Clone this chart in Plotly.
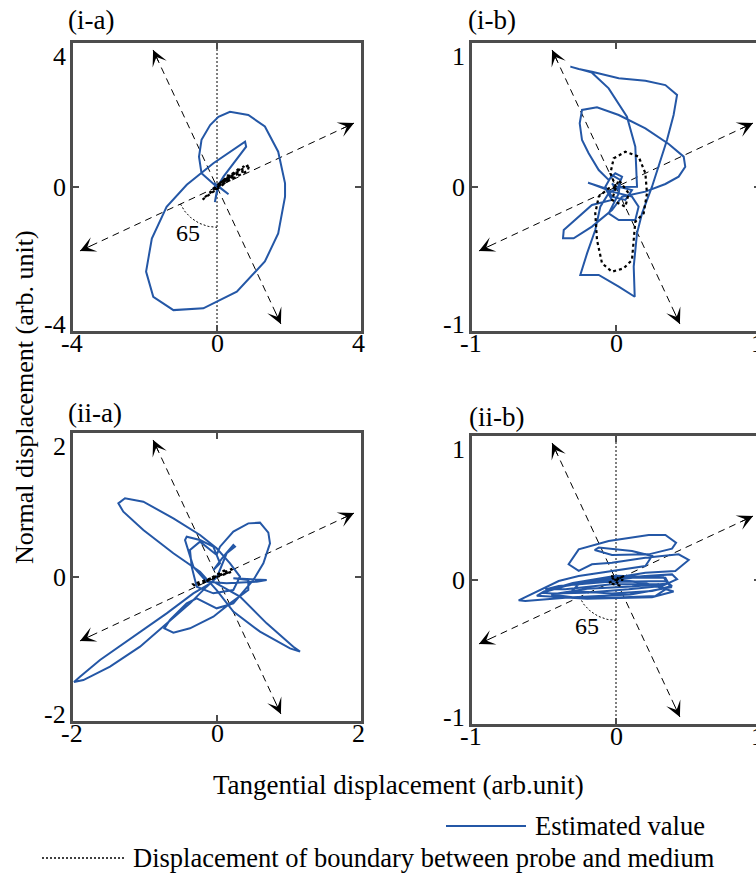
import numpy as np
import plotly.graph_objects as go

W, H = 764, 873
SERIF = "Liberation Serif, Times New Roman, serif"
BLUE = "#2457a6"
FRAME = "#4d4d4d"

# ---- (tangential, normal) trajectories -------------------------------------
est_ia = [(0, 0), (-0.43, 0.38), (-0.5, 0.84), (-0.43, 1.31), (-0.19, 1.72), (0.04, 1.95),
          (0.36, 2.09), (0.87, 2.0), (1.33, 1.68), (1.70, 0.98), (1.89, 0.10), (1.89, -0.27),
          (1.70, -1.29), (1.33, -2.07), (0.55, -2.91), (-0.38, -3.37), (-1.21, -3.42),
          (-1.77, -3.05), (-1.97, -2.35), (-1.81, -1.43), (-1.40, -0.55), (-0.84, 0.06),
          (-0.10, 0.66), (0.45, 1.03), (0.78, 1.26), (0.81, 1.12), (0.45, 0.66), (0.18, 0.29),
          (0.04, 0.06), (0.12, -0.05), (-0.08, 0.12), (0.32, -0.2), (0.02, 0.02), (-0.06, -0.42),
          (0.05, 0.08), (-0.12, -0.05), (0, 0)]
bnd_ia = [(0, 0), (0.85, 0.45), (0.9, 0.62), (0.05, 0.1), (0.7, 0.42), (0.75, 0.58),
          (-0.3, -0.25), (-0.4, -0.35), (0.55, 0.35), (0.6, 0.5), (0, 0.05), (-0.2, -0.15),
          (0.4, 0.3), (0.3, 0.32), (0, 0)]

est_ib = [(0, 0), (0.146, 0.002), (0.134, 0.280), (0.076, 0.488), (-0.051, 0.685),
          (-0.167, 0.794), (-0.317, 0.836), (-0.259, 0.819), (-0.167, 0.801), (0.019, 0.755),
          (0.204, 0.738), (0.343, 0.708), (0.424, 0.639), (0.400, 0.500), (0.354, 0.326),
          (0.296, 0.141), (0.250, 0.002), (0.181, -0.183), (0.146, -0.322), (0.123, -0.553),
          (0.130, -0.762), (0.019, -0.692), (-0.120, -0.611), (-0.248, -0.611), (-0.201, -0.461),
          (-0.144, -0.299), (-0.109, -0.137), (-0.051, -0.044), (0.019, 0.002), (0.111, -0.021),
          (0.065, -0.090), (-0.028, -0.067), (-0.074, 0.002), (-0.028, 0.083), (0.030, 0.049),
          (0.019, -0.044), (-0.051, -0.183), (0.019, -0.229), (0.134, -0.229), (0.157, -0.137),
          (0.111, -0.067), (-0.028, -0.032), (-0.194, 0.030), (-0.074, -0.009), (-0.028, -0.090),
          (-0.167, -0.125), (-0.306, -0.252), (-0.363, -0.299), (-0.368, -0.356), (-0.294, -0.356),
          (-0.167, -0.275), (-0.028, -0.160), (0.042, -0.067), (0.204, -0.032), (0.343, 0.021),
          (0.435, 0.072), (0.481, 0.141), (0.470, 0.211), (0.366, 0.299), (0.204, 0.407),
          (0.019, 0.500), (-0.132, 0.553), (-0.236, 0.535), (-0.252, 0.442), (-0.236, 0.326),
          (-0.190, 0.234), (-0.120, 0.118), (-0.051, 0.049), (-0.005, 0.095), (0.042, 0.072),
          (0.007, -0.021), (-0.028, 0.025), (0, 0)]
bnd_ib = [(0, 0), (-0.039, 0.095), (-0.016, 0.199), (0.065, 0.245), (0.157, 0.211),
          (0.204, 0.095), (0.215, -0.044), (0.192, -0.183), (0.134, -0.241), (0.123, -0.368),
          (0.111, -0.507), (0.053, -0.565), (-0.028, -0.588), (-0.097, -0.530), (-0.132, -0.368),
          (-0.144, -0.183), (-0.120, -0.067), (-0.051, -0.009), (0, 0), (0.019, 0.049),
          (0.088, -0.044), (0.065, -0.137), (-0.028, -0.090), (0, 0)]

est_iia = [(0, 0), (-0.144, -0.134), (-0.375, -0.366), (-0.699, -0.644), (-1.069, -0.968),
           (-1.486, -1.245), (-1.856, -1.431), (-1.986, -1.458), (-1.903, -1.384),
           (-1.625, -1.153), (-1.162, -0.829), (-0.699, -0.505), (-0.329, -0.227),
           (-0.051, -0.065), (0.319, -0.273), (0.690, -0.644), (1.060, -0.968), (1.153, -1.037),
           (1.014, -0.991), (0.597, -0.759), (0.227, -0.481), (-0.005, -0.181), (-0.236, 0.074),
           (-0.606, 0.329), (-1.023, 0.653), (-1.301, 0.907), (-1.370, 1.023), (-1.278, 1.093),
           (-1.023, 1.046), (-0.606, 0.815), (-0.236, 0.583), (-0.005, 0.398), (0.181, 0.190),
           (0.319, 0.005), (0.227, -0.181), (-0.051, -0.227), (-0.282, -0.134), (-0.352, 0.144),
           (-0.375, 0.375), (-0.236, 0.491), (-0.005, 0.306), (0.042, 0.421), (0.227, 0.630),
           (0.435, 0.745), (0.597, 0.755), (0.713, 0.616), (0.736, 0.468), (0.644, 0.190),
           (0.505, -0.042), (0.389, -0.181), (0.227, -0.366), (-0.005, -0.435), (-0.282, -0.296),
           (-0.421, -0.366), (-0.653, -0.597), (-0.731, -0.713), (-0.606, -0.773),
           (-0.375, -0.713), (-0.051, -0.551), (0.181, -0.366), (0.435, -0.181), (0.435, -0.042),
           (0.227, -0.019), (0.690, -0.042), (0.551, -0.065), (0.134, -0.088), (-0.144, -0.065),
           (-0.329, 0.144), (-0.444, 0.514), (-0.421, 0.560), (-0.236, 0.514), (-0.051, 0.421),
           (0.042, 0.190), (-0.051, 0.097), (0.088, 0.282), (0.227, 0.444), (0.250, 0.421),
           (0.134, 0.329), (0, 0)]
bnd_iia = [(0, 0), (0.22, 0.08), (0.2, 0.11), (-0.3, -0.13), (-0.33, -0.1), (0.15, 0.06),
           (0.1, 0.09), (-0.2, -0.08), (0, 0)]

est_iib = [(0, 0), (0.204, 0.028), (0.389, 0.039), (0.424, 0.005), (0.319, -0.042),
           (0.088, -0.065), (-0.213, -0.088), (-0.444, -0.093), (-0.514, -0.088),
           (-0.352, -0.042), (-0.074, 0.005), (0.204, 0.051), (0.412, 0.062), (0.505, 0.139),
           (0.435, 0.178), (0.204, 0.155), (-0.028, 0.120), (-0.167, 0.109), (-0.259, 0.063),
           (-0.329, 0.109), (-0.259, 0.213), (-0.051, 0.271), (0.227, 0.313), (0.343, 0.313),
           (0.417, 0.259), (0.389, 0.218), (0.227, 0.178), (-0.028, 0.174), (-0.148, 0.208),
           (-0.120, 0.225), (0.111, 0.201), (0.250, 0.167), (0.204, 0.097), (-0.028, 0.063),
           (-0.259, 0.028), (-0.398, -0.007), (-0.514, -0.065), (-0.676, -0.141),
           (-0.630, -0.146), (-0.352, -0.123), (-0.028, -0.123), (0.273, -0.111), (0.343, -0.065),
           (0.296, -0.030), (-0.028, -0.030), (-0.352, -0.065), (-0.491, -0.065),
           (-0.398, -0.042), (-0.074, -0.014), (0.343, -0.007), (0.389, -0.042), (0.250, -0.076),
           (-0.028, -0.093), (-0.306, -0.076), (-0.259, -0.030), (0.088, 0.016), (0.343, 0.016),
           (0.366, -0.025), (0.111, -0.046), (-0.2, -0.06), (-0.45, -0.1), (-0.3, -0.12),
           (0.1, -0.1), (0.38, -0.05), (0.33, 0.02), (0.0, 0.03), (-0.3, -0.02), (-0.5, -0.08),
           (-0.55, -0.11), (-0.2, -0.13), (0.25, -0.12), (0.4, -0.08), (0.2, -0.02), (0, 0)]
bnd_iib = [(0, 0), (0.06, 0.03), (-0.05, -0.02), (0.03, -0.04), (-0.04, 0.03), (0.05, 0.0), (0, 0)]

panel_names = ["(i-a)", "(i-b)", "(ii-a)", "(ii-b)"]
panel_limits = [4, 1, 2, 1]
panel_ticktext = [["-4", "0", "4"], ["-1", "0", "1"], ["-2", "0", "2"], ["-1", "0", "1"]]
panel_est = [est_ia, est_ib, est_iia, est_iib]
panel_bnd = [bnd_ia, bnd_ib, bnd_iia, bnd_iib]
panel_angle_mark = [True, False, False, True]
frame_deg = 25          # rotation of the probe frame from the tangential axis
angle_label = "65"

# plot boxes in pixels: left, right, top, bottom
boxes = [(73, 361, 43, 331), (472, 760, 43, 331), (73, 361, 433, 721), (472, 760, 436, 724)]
label_pos = [(91, 20), (492, 20), (95, 413), (496, 417)]

fig = go.Figure()
annotations = []
shapes = []
TICKFONT = dict(family=SERIF, size=26, color="black")
TEXTFONT = dict(family=SERIF, size=26.5, color="black")


def ax_names(i):
    s = "" if i == 0 else str(i + 1)
    return "x" + s, "y" + s, "xaxis" + s, "yaxis" + s


for i in range(4):
    xr, yr, xkey, ykey = ax_names(i)
    lim = panel_limits[i]
    L = 1.05 * lim
    common = dict(xaxis=xr, yaxis=yr, showlegend=False, hoverinfo="skip", mode="lines")

    # rotated frame (dashed, with arrowheads on both ends)
    for th in (frame_deg, frame_deg + 90):
        c, s = np.cos(np.radians(th)), np.sin(np.radians(th))
        fig.add_trace(go.Scatter(x=[-L * c, L * c], y=[-L * s, L * s],
                                 line=dict(color="black", width=1, dash="7px,5px"), **common))
        for sign in (1, -1):
            cc, ss = sign * c, sign * s
            annotations.append(dict(x=L * cc, y=L * ss, xref=xr, yref=yr, text="",
                                    showarrow=True, arrowhead=3, arrowsize=2.6, arrowwidth=1,
                                    arrowcolor="black", ax=-15 * cc, ay=15 * ss, standoff=0))

    if panel_angle_mark[i]:
        fig.add_trace(go.Scatter(x=[0, 0], y=[-lim, lim],
                                 line=dict(color="black", width=1, dash="2px,2px"), **common))
        t = np.radians(np.linspace(180 + frame_deg, 270, 40))
        r = 0.28 * lim
        fig.add_trace(go.Scatter(x=r * np.cos(t), y=r * np.sin(t),
                                 line=dict(color="black", width=1, dash="2px,2px"), **common))
        annotations.append(dict(x=-0.2 * lim, y=-0.32 * lim, xref=xr, yref=yr, text=angle_label,
                                showarrow=False, font=dict(family=SERIF, size=24, color="black")))

    ex, ey = zip(*panel_est[i])
    fig.add_trace(go.Scatter(x=ex, y=ey, line=dict(color=BLUE, width=2), **common))
    bx, by = zip(*panel_bnd[i])
    fig.add_trace(go.Scatter(x=bx, y=by, line=dict(color="black", width=2.2, dash="dot"), **common))

    l, rgt, top, bot = boxes[i]
    axis_style = dict(range=[-lim, lim], tickvals=[-lim, 0, lim], showticklabels=False,
                      ticks="inside", ticklen=6, tickwidth=2, tickcolor=FRAME,
                      showline=True, linewidth=2.5, linecolor=FRAME, mirror="ticks",
                      showgrid=False, zeroline=False, fixedrange=True, automargin=False)
    fig.update_layout({
        xkey: dict(domain=[l / W, rgt / W], anchor=yr, **axis_style),
        ykey: dict(domain=[1 - bot / H, 1 - top / H], anchor=xr, **axis_style),
    })

    # tick labels, set just under / beside the frame
    tt = panel_ticktext[i]
    for v, txt, xs in zip((-lim, 0, lim), tt, (-1, 0, -3)):
        annotations.append(dict(x=v, y=-lim, xref=xr, yref=yr, text=txt, showarrow=False,
                                xanchor="center", yanchor="middle", xshift=xs, yshift=-12,
                                font=TICKFONT))
    for v, txt, ys in zip((-lim, 0, lim), tt, (7, 0, -13)):
        annotations.append(dict(x=-lim, y=v, xref=xr, yref=yr, text=txt, showarrow=False,
                                xanchor="right", yanchor="middle", xshift=-5, yshift=ys,
                                font=TICKFONT))

    lx, ly = label_pos[i]
    annotations.append(dict(x=lx / W, y=1 - ly / H, xref="paper", yref="paper",
                            xanchor="center", yanchor="middle",
                            text=panel_names[i], showarrow=False,
                            font=dict(family=SERIF, size=27, color="black")))

# shared axis titles
annotations.append(dict(x=398 / W, y=1 - 785 / H, xref="paper", yref="paper",
                        xanchor="center", yanchor="middle",
                        text="Tangential displacement (arb.unit)", showarrow=False,
                        font=dict(family=SERIF, size=27, color="black")))
annotations.append(dict(x=25 / W, y=1 - 397 / H, xref="paper", yref="paper", textangle=-90,
                        xanchor="center", yanchor="middle",
                        text="Normal displacement (arb. unit)", showarrow=False,
                        font=dict(family=SERIF, size=26, color="black")))

# legend
shapes.append(dict(type="line", xref="paper", yref="paper", x0=446 / W, x1=526 / W,
                   y0=1 - 826 / H, y1=1 - 826 / H, line=dict(color=BLUE, width=2)))
shapes.append(dict(type="line", xref="paper", yref="paper", x0=42 / W, x1=126 / W,
                   y0=1 - 858 / H, y1=1 - 858 / H,
                   line=dict(color="black", width=1.5, dash="2px,2px")))
annotations.append(dict(x=533 / W, y=1 - 826 / H, xref="paper", yref="paper",
                        xanchor="left", yanchor="middle",
                        text="Estimated value", showarrow=False, font=TEXTFONT))
annotations.append(dict(x=131 / W, y=1 - 858 / H, xref="paper", yref="paper",
                        xanchor="left", yanchor="middle",
                        text="Displacement of boundary between probe and medium", showarrow=False,
                        font=TEXTFONT))

fig.update_layout(width=W, height=H,
                  margin=dict(l=0, r=0, t=0, b=0, pad=0, autoexpand=False),
                  paper_bgcolor="white", plot_bgcolor="white",
                  annotations=annotations, shapes=shapes, showlegend=False)

fig.write_html("out.html", config={"displayModeBar": False},
               post_script="document.body.style.margin='0';"
                           "document.body.style.overflow='hidden';"
                           "document.documentElement.style.overflow='hidden';")
